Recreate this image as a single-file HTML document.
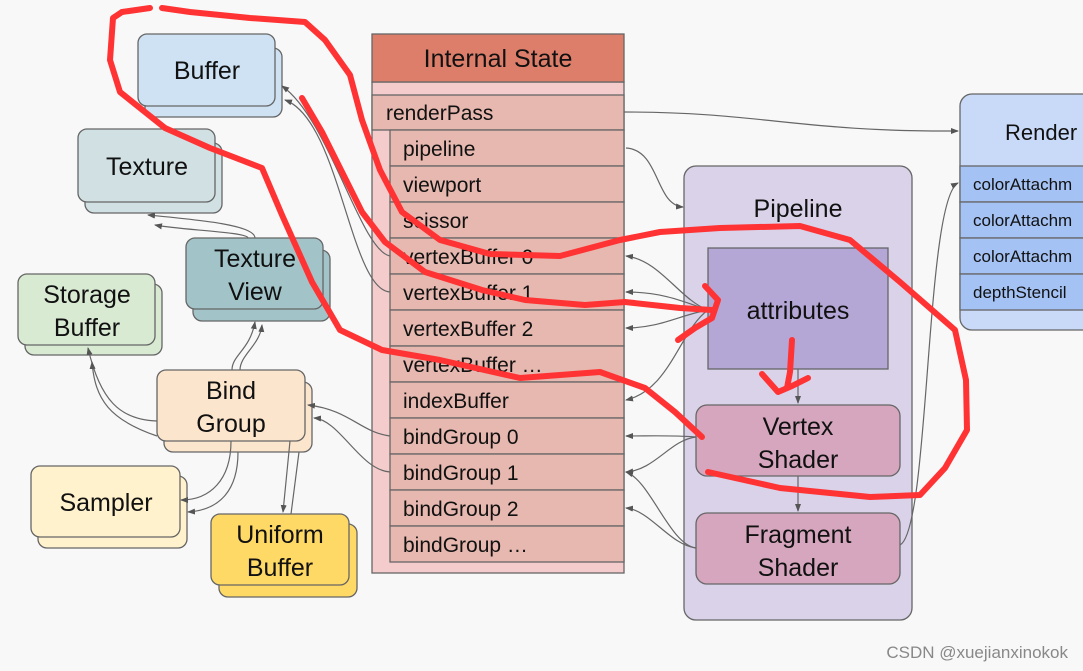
<!DOCTYPE html>
<html><head><meta charset="utf-8"><style>
html,body{margin:0;padding:0;background:#f8f8f8;}
svg{display:block;font-family:"Liberation Sans",Arial,sans-serif;}
</style></head><body>
<svg width="1083" height="671" viewBox="0 0 1083 671" xmlns="http://www.w3.org/2000/svg">
<defs>
<marker id="a" markerWidth="8" markerHeight="8" refX="7" refY="4" orient="auto" markerUnits="userSpaceOnUse"><path d="M0,1 L8,4 L0,7 Z" fill="#555"/></marker>
</defs>
<rect width="1083" height="671" fill="#f8f8f8"/>
<g stroke="#666" stroke-width="1.3">
<rect x="145" y="48" width="137" height="69" rx="9" fill="#cfe2f3"/>
<rect x="138" y="34" width="137" height="72" rx="9" fill="#cfe2f3"/>
<rect x="85" y="143" width="137" height="70" rx="9" fill="#d0e0e3"/>
<rect x="78" y="129" width="137" height="73" rx="9" fill="#d0e0e3"/>
<rect x="193" y="250" width="137" height="71" rx="9" fill="#a2c4c9"/>
<rect x="186" y="238" width="137" height="71" rx="9" fill="#a2c4c9"/>
<rect x="25" y="284" width="137" height="71" rx="9" fill="#d9ead3"/>
<rect x="18" y="274" width="137" height="71" rx="9" fill="#d9ead3"/>
<rect x="164" y="382" width="148" height="70" rx="9" fill="#fce5cd"/>
<rect x="157" y="370" width="148" height="71" rx="9" fill="#fce5cd"/>
<rect x="38" y="476" width="149" height="72" rx="9" fill="#fff2cc"/>
<rect x="31" y="466" width="149" height="71" rx="9" fill="#fff2cc"/>
<rect x="219" y="524" width="138" height="73" rx="9" fill="#ffd966"/>
<rect x="211" y="514" width="138" height="71" rx="9" fill="#ffd966"/>
<rect x="372" y="82" width="252" height="491" fill="#f4cccc"/>
<rect x="372" y="34" width="252" height="48" fill="#dd7e6b"/>
<rect x="372" y="95" width="252" height="35" fill="#e6b8af"/>
<g fill="#e6b8af">
<rect x="390" y="130" width="234" height="36"/><rect x="390" y="166" width="234" height="36"/>
<rect x="390" y="202" width="234" height="36"/><rect x="390" y="238" width="234" height="36"/>
<rect x="390" y="274" width="234" height="36"/><rect x="390" y="310" width="234" height="36"/>
<rect x="390" y="346" width="234" height="36"/><rect x="390" y="382" width="234" height="36"/>
<rect x="390" y="418" width="234" height="36"/><rect x="390" y="454" width="234" height="36"/>
<rect x="390" y="490" width="234" height="36"/><rect x="390" y="526" width="234" height="36"/>
</g>
<rect x="684" y="166" width="228" height="454" rx="12" fill="#d9d2e9"/>
<rect x="708" y="248" width="180" height="121" fill="#b4a7d6"/>
<rect x="696" y="405" width="204" height="71" rx="11" fill="#d5a6bd"/>
<rect x="696" y="513" width="204" height="71" rx="11" fill="#d5a6bd"/>
<rect x="960" y="94" width="140" height="236" rx="12" fill="#c9daf8"/>
<g fill="#a4c2f4"><rect x="960" y="166" width="140" height="36"/><rect x="960" y="202" width="140" height="36"/><rect x="960" y="238" width="140" height="36"/><rect x="960" y="274" width="140" height="36"/></g>
</g>
<g fill="none" stroke="#666" stroke-width="1.2" marker-end="url(#a)">
<path d="M624,112 C760,112 800,132 958,131"/>
<path d="M626,148 C660,150 655,205 683,207"/>
<path d="M708,310 C680,300 660,260 626,256"/>
<path d="M708,310 C680,300 660,292 626,292"/>
<path d="M708,310 C680,315 660,328 626,328"/>
<path d="M708,310 C680,330 670,390 626,400"/>
<path d="M696,437 C670,435 650,436 626,436"/>
<path d="M696,437 C670,440 655,470 626,472"/>
<path d="M696,548 C670,545 650,480 626,472"/>
<path d="M696,548 C670,545 650,510 626,508"/>
<path d="M900,545 C930,530 925,200 958,183"/>
<path d="M798,369 L798,403"/>
<path d="M798,476 L798,511"/>
<path d="M390,256 C360,250 330,120 282,86"/>
<path d="M390,292 C350,290 340,120 285,100"/>
<path d="M390,436 C360,432 350,410 308,405"/>
<path d="M390,472 C360,470 340,420 314,418"/>
<path d="M255,238 C255,225 200,220 148,215"/>
<path d="M248,238 C248,232 180,230 155,225"/>
<path d="M232,370 C232,355 250,350 255,322"/>
<path d="M240,370 C240,355 260,345 262,325"/>
<path d="M157,421 C120,420 100,400 88,348"/>
<path d="M157,436 C110,420 95,400 92,362"/>
<path d="M231,441 C231,480 210,500 181,500"/>
<path d="M238,452 C238,490 220,510 188,512"/>
<path d="M290,441 L283,512"/>
<path d="M299,452 L291,514" marker-end="none"/>
</g>
<g fill="#111" font-size="25" text-anchor="middle">
<text x="207" y="79">Buffer</text>
<text x="147" y="175">Texture</text>
<text x="255" y="267">Texture</text><text x="255" y="300">View</text>
<text x="87" y="303">Storage</text><text x="87" y="336">Buffer</text>
<text x="231" y="399">Bind</text><text x="231" y="432">Group</text>
<text x="106" y="511">Sampler</text>
<text x="280" y="543">Uniform</text><text x="280" y="576">Buffer</text>
<text x="498" y="67">Internal State</text>
<text x="798" y="217">Pipeline</text>
<text x="798" y="319">attributes</text>
<text x="798" y="435">Vertex</text><text x="798" y="468">Shader</text>
<text x="798" y="543">Fragment</text><text x="798" y="576">Shader</text>
<text x="1005" y="140" text-anchor="start" font-size="22">Render</text>
</g>
<g fill="#111" font-size="21">
<text x="386" y="120">renderPass</text>
<text x="403" y="156">pipeline</text><text x="403" y="192">viewport</text>
<text x="403" y="228">scissor</text><text x="403" y="264">vertexBuffer 0</text>
<text x="403" y="300">vertexBuffer 1</text><text x="403" y="336">vertexBuffer 2</text>
<text x="403" y="372">vertexBuffer …</text><text x="403" y="408">indexBuffer</text>
<text x="403" y="444">bindGroup 0</text><text x="403" y="480">bindGroup 1</text>
<text x="403" y="516">bindGroup 2</text><text x="403" y="552">bindGroup …</text>
</g>
<g fill="#111" font-size="17">
<text x="973" y="190">colorAttachm</text><text x="973" y="226">colorAttachm</text>
<text x="973" y="262">colorAttachm</text><text x="973" y="298">depthStencil</text>
</g>
<g fill="none" stroke="#ff3333" stroke-width="6" stroke-linecap="round" stroke-linejoin="round">
<path d="M122,12 L150,8"/>
<path d="M162,8 L190,12 L250,18 L305,22 L325,40 L350,75 L362,120 L380,170 L402,212 L440,240 L490,254 L560,256 L620,240 L660,232 L720,228 L800,226 L850,240 L900,282 L955,330 L966,380 L967,430 L945,468 L920,495 L870,497 L780,488 L735,478 L708,472"/>
<path d="M122,12 L113,18 L110,60 L120,92 L165,128 L210,148 L262,168 L282,215 L312,282 L340,330 L382,350 L440,360 L520,378 L600,372 L645,388 L675,412 L702,437"/>
<path d="M302,98 L322,132 L342,172 L362,212 L385,242 L425,272 L482,290 L525,300 L585,305 L625,302 L680,308 L712,310"/>
<path d="M705,286 L718,300 L712,318 L695,328 L678,340"/>
<path d="M792,340 L790,372 L787,388"/>
<path d="M762,374 L778,392 L792,386 L808,378"/>
</g>
<text x="1068" y="658" text-anchor="end" font-size="17" fill="#888">CSDN @xuejianxinokok</text>
</svg>
</body></html>
